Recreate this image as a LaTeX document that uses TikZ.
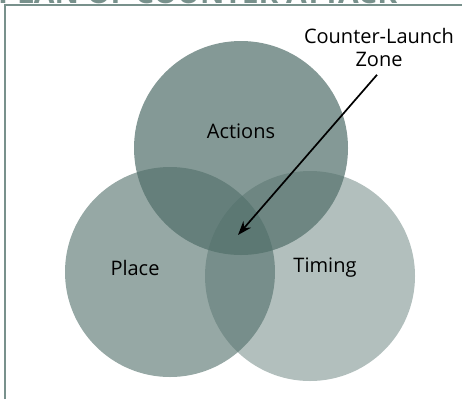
\documentclass[tikz,border=0pt]{standalone}
\usepackage{fontspec}
\setmainfont{Open Sans}
\usepackage{tikz}
\usetikzlibrary{arrows.meta, calc}

\definecolor{sage}{RGB}{80,110,105}
\definecolor{frame}{RGB}{120,145,140}

\tikzset{
  set/.style={circle, fill=sage, inner sep=0pt, minimum size=#1},
  lbl/.style={font=\fontsize{20}{23}\selectfont, text=black},
}

\begin{document}
\begin{tikzpicture}[x=1pt, y=-1pt]
        \useasboundingbox (0,0) rectangle (462,399);
        \clip (0,0) rectangle (462,399);

        % Frame and title
        \draw[frame, line width=1.2pt] (5,399) -- (5,5) -- (462,5);
        \node (title) [anchor=base west, inner sep=0pt, text=frame,
          font=\bfseries\fontsize{30}{30}\selectfont] at (-2,3) {PLAN OF COUNTER ATTACK};

        % Sets
        \node (place) [set=210pt, fill opacity=0.6] at (170,272) {};
        \node (timing) [set=210pt, fill opacity=0.44] at (310,276) {};
        \node (actions) [set=214pt, fill opacity=0.7] at (241,148) {};

        % Labels
        \node (lactions) [lbl] at (241,131) {Actions};
        \node (lplace) [lbl] at (135,268) {Place};
        \node (ltiming) [lbl] at (325,268) {Timing};
        \node (zone) [lbl, align=center, anchor=north, inner sep=2pt] at (379,26) {Counter-Launch\\Zone};

        % Arrow
        \coordinate (hit) at (238,235);
        \draw[line width=1.7pt, -{Stealth[length=14pt, width=10pt]}] ($(zone.south)+(-2,6)$) -- (hit);
\end{tikzpicture}
\end{document}
